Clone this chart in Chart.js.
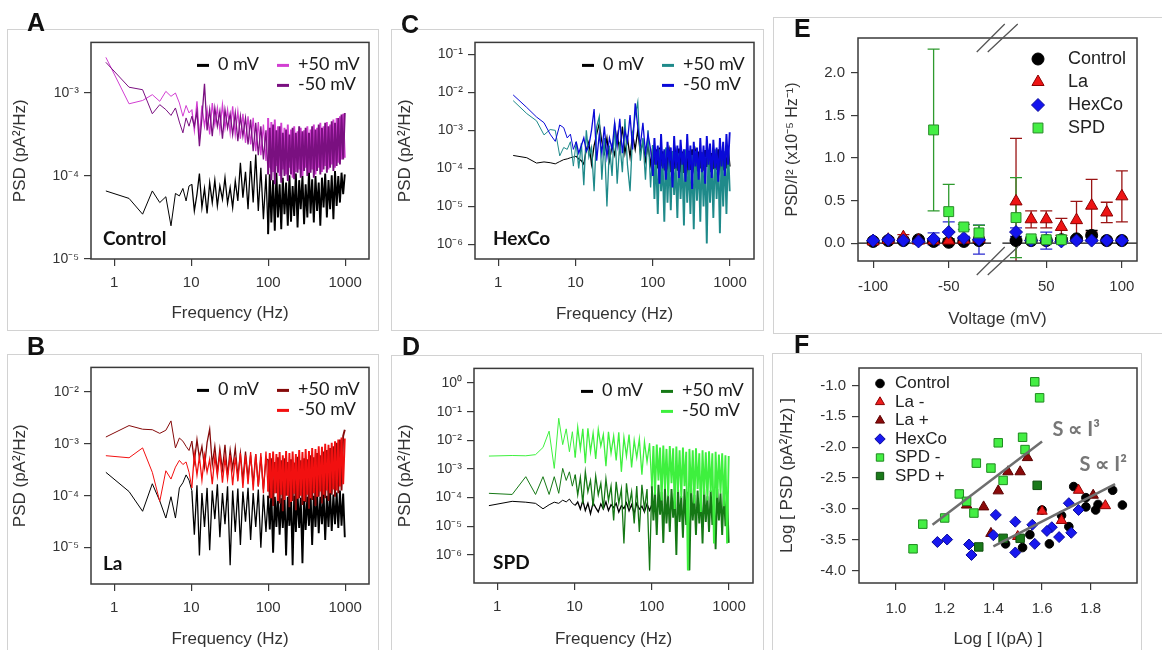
<!DOCTYPE html>
<html>
<head>
<meta charset="utf-8">
<script src="https://cdn.jsdelivr.net/npm/chart.js@4.4.1/dist/chart.umd.min.js"></script>
<style>
  html, body { margin: 0; padding: 0; background: #fff; }
  body { width: 1162px; height: 650px; position: relative; overflow: hidden; font-family: "Liberation Sans", Arial, sans-serif; }
  .box { position: absolute; box-sizing: border-box; border: 1px solid #d2d2d2; }
  .cv { position: absolute; }
  .lett { position: absolute; font: bold 25px/24px "Liberation Sans", Arial, sans-serif; color: #111; }
</style>
</head>
<body>
<div class="box" style="left:7px;top:29px;width:372px;height:302px"></div>
<div class="box" style="left:7px;top:354px;width:372px;height:310px"></div>
<div class="box" style="left:391px;top:29px;width:373px;height:302px"></div>
<div class="box" style="left:391px;top:355px;width:373px;height:310px"></div>
<div class="box" style="left:773px;top:17px;width:400px;height:317px"></div>
<div class="box" style="left:772px;top:353px;width:370px;height:310px"></div>

<canvas id="pA" class="cv" style="left:7px;top:29px" width="371" height="301"></canvas>
<canvas id="pB" class="cv" style="left:7px;top:354px" width="371" height="296"></canvas>
<canvas id="pC" class="cv" style="left:391px;top:29px" width="372" height="301"></canvas>
<canvas id="pD" class="cv" style="left:391px;top:355px" width="372" height="295"></canvas>
<canvas id="pE" class="cv" style="left:773px;top:17px" width="389" height="316"></canvas>
<canvas id="pF" class="cv" style="left:772px;top:353px" width="369" height="297"></canvas>

<div class="lett" style="left:27px;top:10px">A</div>
<div class="lett" style="left:27px;top:334px">B</div>
<div class="lett" style="left:401px;top:12px">C</div>
<div class="lett" style="left:402px;top:334px">D</div>
<div class="lett" style="left:794px;top:16px">E</div>
<div class="lett" style="left:794px;top:332px">F</div>

<script>
// ---- spectra: frequency bins (Hz) shared by panels A-D ----
const FREQ = [
  0.78, 1.56, 2.34, 3.13, 3.91, 4.69, 5.47, 6.25, 7.03, 7.81, 8.59, 9.38,
  10.2, 11.0, 11.9, 12.8, 13.8, 14.9, 16.1, 17.4, 18.8, 20.3,
  21.9, 23.6, 25.5, 27.5, 29.7, 32.1, 34.6, 37.4, 40.4, 43.6,
  47.0, 50.8, 54.8, 59.2, 63.9, 69.0, 74.5, 80.4, 86.8, 93.7,
  100, 105, 110, 116, 122, 128, 134, 141,
  148, 155, 163, 171, 180, 189, 198, 208,
  218, 229, 241, 253, 265, 279, 293, 307,
  323, 339, 356, 373, 392, 412, 432, 454,
  476, 500, 525, 551, 579, 608, 638, 670,
  704, 739, 776, 815, 856, 898, 943, 990
];
const FREQ_TICKS = [1, 10, 100, 1000];
const LEGEND_LABELS = ['0 mV', '+50 mV', '-50 mV'];

// values are log10(PSD in pA^2/Hz)
// A - Control
const A_0MV = [
  -4.18,-4.27,-4.46,-4.18,-4.32,-4.25,-4.60,-4.21,-4.24,-4.15,-4.30,-4.12,
  -4.10,-4.42,-4.22,-3.97,-4.38,-4.15,-4.45,-4.08,-4.32,-4.05,
  -4.36,-4.12,-4.28,-4.02,-4.33,-4.14,-4.38,-4.06,-4.30,-3.84,
  -4.26,-3.95,-4.40,-3.82,-4.32,-3.74,-4.42,-3.90,-4.52,-3.98,
  -4.70,-3.98,-4.56,-4.05,-4.66,-3.96,-4.50,-4.10,
  -4.64,-4.02,-4.46,-4.08,-4.60,-3.99,-4.55,-4.12,
  -4.48,-3.97,-4.62,-4.05,-4.40,-4.00,-4.58,-4.10,
  -4.50,-3.95,-4.45,-4.04,-4.56,-4.00,-4.42,-4.08,
  -4.60,-4.02,-4.38,-3.97,-4.50,-4.05,-4.40,-3.99,
  -4.52,-3.94,-4.36,-4.00,-4.32,-3.96,-4.22,-3.98
];
const A_P50 = [
  -2.57,-3.13,-3.09,-3.02,-3.10,-2.98,-3.04,-3.00,-3.12,-3.28,-3.15,-3.24,
  -3.20,-3.45,-3.10,-3.55,-3.15,-3.40,-3.20,-3.50,-3.12,-3.38,
  -3.18,-3.45,-3.14,-3.42,-3.20,-3.48,-3.16,-3.50,-3.22,-3.55,
  -3.25,-3.60,-3.28,-3.62,-3.30,-3.70,-3.35,-3.75,-3.38,-3.82,
  -3.30,-3.90,-3.35,-3.95,-3.32,-3.88,-3.40,-4.00,
  -3.36,-3.92,-3.42,-3.98,-3.38,-3.90,-3.44,-4.02,
  -3.40,-3.95,-3.46,-3.92,-3.42,-4.00,-3.45,-3.90,
  -3.40,-3.96,-3.44,-3.92,-3.38,-3.98,-3.42,-3.90,
  -3.36,-3.95,-3.40,-3.88,-3.35,-3.92,-3.38,-3.86,
  -3.32,-3.90,-3.30,-3.84,-3.28,-3.80,-3.25,-3.78
];
const A_M50 = [
  -2.63,-2.93,-2.96,-3.25,-3.14,-3.20,-3.27,-3.18,-3.35,-3.48,-3.30,-3.40,
  -3.28,-3.40,-3.22,-3.64,-3.30,-2.89,-3.45,-3.20,-3.52,-3.18,
  -3.40,-3.22,-3.55,-3.20,-3.42,-3.25,-3.50,-3.24,-3.58,-3.28,
  -3.52,-3.30,-3.62,-3.32,-3.70,-3.36,-3.75,-3.40,-3.80,-3.45,
  -3.98,-3.42,-4.05,-3.38,-4.10,-3.45,-3.96,-3.40,
  -4.08,-3.48,-4.00,-3.44,-4.06,-3.50,-3.98,-3.42,
  -4.04,-3.48,-3.96,-3.40,-4.02,-3.46,-3.94,-3.42,
  -4.00,-3.48,-3.96,-3.40,-4.02,-3.44,-3.94,-3.38,
  -3.98,-3.42,-3.92,-3.36,-3.96,-3.40,-3.90,-3.34,
  -3.94,-3.36,-3.88,-3.30,-3.86,-3.26,-3.80,-3.24
];

// B - La
const B_0MV = [
  -3.55,-3.92,-4.30,-3.77,-4.10,-4.43,-4.02,-4.43,-3.85,-3.75,-3.60,-3.70,
  -3.90,-4.75,-3.80,-5.15,-3.95,-4.60,-3.85,-5.05,-3.90,-4.45,
  -3.78,-4.80,-3.95,-4.55,-3.82,-5.34,-3.90,-4.70,-3.86,-4.95,
  -3.92,-4.50,-3.85,-4.85,-3.95,-4.60,-3.88,-5.00,-3.98,-4.70,
  -4.00,-4.65,-3.95,-5.10,-4.02,-4.60,-3.98,-4.75,
  -4.05,-4.62,-3.96,-5.15,-4.02,-4.58,-3.95,-5.34,
  -4.00,-4.70,-3.97,-4.62,-4.04,-5.30,-3.98,-4.66,
  -4.02,-4.58,-3.96,-4.95,-4.00,-4.60,-3.94,-4.72,
  -4.02,-4.55,-3.96,-4.85,-4.00,-4.60,-3.92,-4.68,
  -3.98,-4.55,-3.94,-4.62,-3.90,-4.58,-3.96,-4.80
];
const B_P50 = [
  -2.87,-2.65,-2.72,-2.73,-2.80,-2.74,-2.56,-3.08,-2.89,-2.95,-3.05,-3.13,
  -2.95,-3.35,-2.92,-3.28,-3.05,-3.45,-2.98,-2.72,-3.40,-3.05,
  -3.55,-3.10,-3.50,-3.02,-3.60,-3.12,-3.48,-3.08,-3.62,-3.18,
  -3.70,-3.15,-3.66,-3.22,-3.78,-3.20,-3.82,-3.25,-3.88,-3.30,
  -3.30,-4.05,-3.28,-4.20,-3.35,-3.95,-3.26,-4.15,
  -3.32,-4.30,-3.28,-4.00,-3.35,-4.22,-3.30,-4.10,
  -3.36,-4.28,-3.25,-4.05,-3.32,-4.18,-3.28,-4.12,
  -3.30,-4.25,-3.22,-4.08,-3.26,-4.20,-3.18,-4.02,
  -3.22,-4.15,-3.15,-4.05,-3.12,-4.10,-3.08,-3.98,
  -3.05,-4.02,-2.98,-3.95,-2.92,-3.90,-2.85,-2.73
];
const B_M50 = [
  -3.23,-3.27,-3.08,-3.55,-4.11,-3.52,-3.68,-3.45,-3.32,-3.40,-3.35,-3.55,
  -3.85,-3.20,-3.60,-3.25,-3.70,-3.22,-3.55,-3.30,-3.78,-3.25,
  -3.62,-3.20,-3.75,-3.28,-3.68,-3.22,-3.80,-3.26,-3.72,-3.18,
  -3.85,-3.22,-3.78,-3.16,-3.90,-3.20,-3.82,-3.18,-3.95,-3.15,
  -3.92,-3.18,-4.05,-3.15,-3.95,-3.20,-4.10,-3.16,
  -3.98,-3.22,-4.08,-3.14,-4.00,-3.18,-4.12,-3.15,
  -3.96,-3.20,-4.06,-3.12,-4.00,-3.16,-4.10,-3.10,
  -3.98,-3.14,-4.05,-3.08,-3.95,-3.10,-4.02,-3.05,
  -3.92,-3.06,-3.98,-3.00,-3.90,-3.02,-3.95,-2.98,
  -3.88,-2.95,-3.90,-2.92,-3.82,-2.88,-3.78,-2.90
];

// C - HexCo
const C_0MV = [
  null,-3.66,-3.72,-3.86,-3.83,-3.85,-3.88,-3.82,-3.77,-3.75,-3.72,-3.70,
  -3.68,-3.75,-3.80,-3.89,-3.50,-3.30,-3.89,-3.40,-3.10,-2.82,
  -3.30,-3.60,-3.20,-3.80,-3.40,-3.65,-3.10,-3.55,-2.90,-3.60,
  -3.20,-3.70,-3.10,-3.50,-3.00,-3.60,-3.30,-3.80,-3.40,-3.90,
  -3.40,-3.90,-3.50,-4.00,-3.45,-3.95,-3.55,-4.05,
  -3.52,-3.92,-3.60,-4.10,-3.55,-4.02,-3.62,-4.06,
  -3.48,-3.96,-3.56,-4.12,-3.60,-3.98,-3.54,-4.04,
  -3.50,-3.94,-3.62,-4.08,-3.56,-4.00,-3.58,-4.06,
  -3.52,-3.96,-3.54,-4.10,-3.60,-4.02,-3.56,-4.04,
  -3.50,-3.95,-3.55,-4.05,-3.58,-4.00,-3.52,-3.95
];
const C_P50 = [
  null,-2.22,-2.56,-2.75,-3.12,-2.98,-3.00,-3.67,-3.45,-3.50,-3.30,-3.94,
  -3.30,-4.00,-3.34,-4.44,-3.00,-3.70,-3.45,-4.60,-2.90,-2.64,
  -4.30,-3.20,-5.00,-3.40,-4.20,-2.80,-4.40,-3.30,-4.10,-2.70,
  -3.90,-4.60,-3.10,-2.60,-2.26,-3.80,-3.20,-4.30,-3.00,-4.50,
  -3.40,-4.80,-3.60,-5.20,-3.50,-4.60,-3.80,-5.40,
  -3.45,-4.90,-3.70,-5.10,-3.55,-4.70,-3.90,-5.30,
  -3.60,-4.80,-3.75,-5.50,-3.50,-4.90,-3.85,-5.20,
  -3.65,-5.60,-3.55,-4.85,-3.80,-5.40,-3.60,-5.00,
  -3.70,-5.97,-3.55,-4.90,-3.80,-5.30,-3.50,-4.80,
  -3.75,-5.70,-3.60,-5.00,-3.55,-5.20,-3.45,-4.60
];
const C_M50 = [
  null,-2.07,-2.40,-2.65,-2.80,-3.10,-3.29,-2.86,-2.93,-3.20,-3.10,-3.50,
  -3.30,-3.60,-3.40,-3.20,-3.55,-3.41,-3.00,-2.44,-3.80,-3.10,
  -3.60,-2.90,-3.70,-3.20,-3.50,-2.80,-3.40,-2.70,-3.60,-3.00,
  -3.30,-2.60,-3.50,-2.29,-2.90,-3.40,-2.80,-3.60,-3.10,-3.50,
  -4.20,-3.20,-3.90,-3.40,-4.40,-3.10,-4.00,-3.50,
  -4.30,-3.30,-3.80,-3.45,-4.50,-3.15,-4.00,-3.40,
  -4.25,-3.25,-3.90,-3.50,-4.35,-3.10,-4.05,-3.40,
  -4.54,-3.30,-3.95,-3.45,-4.30,-3.20,-4.10,-3.40,
  -4.40,-3.15,-3.90,-3.35,-4.25,-3.25,-4.00,-3.45,
  -4.35,-3.20,-3.95,-3.30,-4.20,-3.10,-3.90,-3.05
];

// D - SPD (0 mV trace stops near 110 Hz)
const D_0MV = [
  -4.28,-4.13,-4.16,-4.20,-4.39,-4.25,-4.16,-4.20,-4.09,-4.15,-4.05,-4.20,
  -4.27,-4.15,-4.40,-4.10,-4.45,-4.20,-4.56,-4.18,-4.35,-4.50,
  -4.22,-4.40,-4.15,-4.45,-4.25,-4.35,-4.20,-4.50,-4.28,-4.38,
  -4.18,-4.46,-4.25,-4.55,-4.20,-4.40,-4.30,-4.50,-4.22,-4.45,
  -4.25,-4.40,-4.20,null,null,null,null,null,
  null,null,null,null,null,null,null,null,
  null,null,null,null,null,null,null,null,
  null,null,null,null,null,null,null,null,
  null,null,null,null,null,null,null,null,
  null,null,null,null,null,null,null,null
];
const D_P50 = [
  -3.85,-3.89,-3.27,-3.89,-3.27,-3.89,-3.27,-3.85,-2.98,-3.40,-3.10,-3.60,
  -3.20,-3.90,-3.30,-4.20,-3.10,-3.80,-3.40,-4.30,-3.25,-3.90,
  -3.50,-4.40,-3.35,-4.10,-3.60,-4.80,-3.45,-4.20,-3.70,-5.60,
  -3.50,-4.30,-3.80,-4.90,-3.60,-5.20,-3.55,-4.40,-3.70,-6.54,
  -3.60,-4.80,-3.75,-5.30,-3.55,-4.60,-3.80,-5.58,
  -3.65,-4.90,-3.90,-5.20,-3.70,-4.70,-3.85,-6.00,
  -3.60,-4.85,-3.95,-5.40,-3.70,-4.95,-3.80,-6.54,
  -3.65,-4.80,-3.90,-5.30,-3.75,-4.90,-3.85,-5.60,
  -3.70,-4.85,-3.95,-5.20,-3.75,-4.95,-3.90,-5.80,
  -3.70,-4.80,-3.85,-5.30,-3.75,-5.00,-3.90,-5.58
];
const D_M50 = [
  -2.55,-2.53,-2.54,-2.50,-2.25,-1.68,-2.98,-1.23,-2.15,-1.60,-2.40,-1.70,
  -2.60,-1.55,-2.30,-1.60,-2.80,-1.58,-2.40,-1.75,-2.65,-1.62,
  -2.20,-1.80,-2.90,-1.70,-2.45,-1.85,-2.70,-1.72,-3.10,-1.90,
  -2.55,-1.80,-2.95,-2.00,-2.60,-1.95,-3.20,-2.05,-2.75,-2.10,
  -3.60,-2.20,-3.90,-2.15,-3.40,-2.25,-4.10,-2.18,
  -3.70,-2.30,-3.95,-2.20,-3.50,-2.28,-4.40,-2.22,
  -3.80,-2.35,-4.00,-2.25,-3.60,-2.40,-6.54,-2.30,
  -3.85,-2.35,-4.20,-2.28,-3.70,-2.45,-4.50,-2.35,
  -3.90,-2.42,-4.10,-2.38,-3.80,-2.45,-5.60,-2.40,
  -4.00,-2.50,-3.85,-2.45,-4.30,-2.52,-5.60,-2.55
];

// ---- E: PSD/I^2 vs voltage ----
const E_VOLT = [-100, -90, -80, -70, -60, -50, -40, -30, 30, 40, 50, 60, 70, 80, 90, 100];
const E_XTICKS = [-100, -50, 50, 100];
const E_YTICKS = [0, 0.5, 1.0, 1.5, 2.0];
const E_LABELS = ['Control', 'La', 'HexCo', 'SPD'];
const E_CONTROL     = [0.02, 0.03, 0.03, 0.04, 0.02, 0.01, 0.02, 0.03, 0.03, 0.03, 0.03, 0.04, 0.05, 0.09, 0.03, 0.03];
const E_CONTROL_ERR = [0.01, 0.01, 0.01, 0.01, 0.01, 0.01, 0.01, 0.01, 0.01, 0.01, 0.01, 0.02, 0.02, 0.06, 0.01, 0.01];
const E_LA          = [0.02, 0.04, 0.07, 0.03, 0.03, 0.03, 0.04, 0.05, 0.49, 0.28, 0.28, 0.19, 0.27, 0.44, 0.36, 0.55];
const E_LA_ERR      = [0.01, 0.02, 0.03, 0.01, 0.01, 0.02, 0.02, 0.02, 0.74, 0.10, 0.10, 0.10, 0.22, 0.31, 0.12, 0.30];
const E_HEXCO       = [0.03, 0.04, 0.03, 0.02, 0.05, 0.13, 0.06, 0.04, 0.13, 0.03, 0.03, 0.02, 0.03, 0.03, 0.03, 0.03];
const E_HEXCO_ERR   = [0.01, 0.01, 0.01, 0.01, 0.07, 0.12, 0.02, 0.17, 0.05, 0.01, 0.10, 0.02, 0.01, 0.01, 0.01, 0.01];
const E_SPD         = [null, null, null, null, 1.33, 0.37, 0.19, 0.12, 0.30, 0.05, 0.04, 0.04, null, null, null, null];
const E_SPD_ERR     = [null, null, null, null, 0.95, 0.32, 0.03, 0.09, 0.47, 0.02, 0.02, 0.02, null, null, null, null];

// ---- F: log PSD vs log I ----
const F_LABELS = ['Control', 'La -', 'La +', 'HexCo', 'SPD -', 'SPD +'];
const F_CONTROL_X = [1.73, 1.89, 1.78, 1.93, 1.83, 1.82, 1.78, 1.60, 1.68, 1.71, 1.55, 1.45, 1.52, 1.63];
const F_CONTROL_Y = [-2.64, -2.70, -2.82, -2.94, -2.93, -3.02, -2.97, -3.02, -3.11, -3.29, -3.42, -3.57, -3.63, -3.57];
const F_LAM_X = [1.75, 1.86, 1.60, 1.68, 1.50];
const F_LAM_Y = [-2.70, -2.95, -3.04, -3.19, -3.45];
const F_LAP_X = [1.54, 1.46, 1.51, 1.42, 1.36, 1.29, 1.81, 1.39];
const F_LAP_Y = [-2.17, -2.40, -2.40, -2.71, -2.97, -2.94, -2.78, -3.40];
const F_HEX_X = [1.71, 1.75, 1.41, 1.49, 1.56, 1.64, 1.62, 1.72, 1.67, 1.40, 1.17, 1.21, 1.30, 1.31, 1.57, 1.49];
const F_HEX_Y = [-2.91, -3.02, -3.10, -3.21, -3.26, -3.30, -3.36, -3.39, -3.46, -3.43, -3.54, -3.50, -3.58, -3.75, -3.57, -3.71];
const F_SPDM_X = [1.57, 1.59, 1.52, 1.42, 1.53, 1.33, 1.39, 1.44, 1.26, 1.29, 1.32, 1.20, 1.11, 1.07];
const F_SPDM_Y = [-0.94, -1.20, -1.84, -1.93, -2.04, -2.26, -2.34, -2.54, -2.76, -2.88, -3.07, -3.15, -3.25, -3.65];
const F_SPDP_X = [1.58, 1.44, 1.51, 1.34];
const F_SPDP_Y = [-2.62, -3.48, -3.48, -3.62];
const F_FIT3_X = [1.15, 1.60];
const F_FIT3_Y = [-3.26, -1.91];
const F_FIT2_X = [1.40, 1.90];
const F_FIT2_Y = [-3.61, -2.60];
const F_XTICKS = [1.0, 1.2, 1.4, 1.6, 1.8];
const F_YTICKS = [-1.0, -1.5, -2.0, -2.5, -3.0, -3.5, -4.0];

// ---------------------------------------------------------------
const FONT = '"Liberation Sans", Arial, sans-serif';
const LFONT = 'Lato, "Open Sans", sans-serif';
const GRID = { display: true, drawOnChartArea: false, drawTicks: true, tickLength: 7, color: '#3a3a3a', lineWidth: 1.2 };
const SUP = { '-': '\u207B', '0': '\u2070', '1': '\u00B9', '2': '\u00B2', '3': '\u00B3', '4': '\u2074',
              '5': '\u2075', '6': '\u2076', '7': '\u2077', '8': '\u2078', '9': '\u2079' };
const powLabel = v => '10' + String(Math.round(Math.log10(v))).split('').map(c => SUP[c]).join('');

const framePlugin = {
  id: 'frame',
  afterDatasetsDraw(chart) {
    const { ctx, chartArea: a } = chart;
    ctx.save();
    ctx.strokeStyle = '#3a3a3a';
    ctx.lineWidth = 1.5;
    ctx.strokeRect(a.left, a.top, a.right - a.left, a.bottom - a.top);
    ctx.restore();
  }
};

// legend "— 0 mV  — +50 mV / — -50 mV" plus the condition tag
const psdLegend = {
  id: 'psdLegend',
  afterDraw(chart, args, opts) {
    const { ctx, chartArea: a } = chart;
    const slots = [[a.right - 172, a.top + 23], [a.right - 92, a.top + 23], [a.right - 92, a.top + 43]];
    ctx.save();
    ctx.font = '18px ' + LFONT;
    ctx.textBaseline = 'middle';
    opts.legendIdx.forEach((di, k) => {
      const d = chart.data.datasets[di];
      const [x, y] = slots[k];
      ctx.strokeStyle = d.borderColor;
      ctx.lineWidth = 3;
      ctx.beginPath(); ctx.moveTo(x, y); ctx.lineTo(x + 12, y); ctx.stroke();
      ctx.fillStyle = '#1a1a1a';
      ctx.fillText(d.label, x + 21, y - 1);
    });
    ctx.font = 'bold 19px ' + LFONT;
    ctx.textBaseline = 'alphabetic';
    ctx.fillStyle = '#111';
    ctx.fillText(opts.tag, a.left + opts.tagX, a.bottom - 14);
    ctx.restore();
  }
};

function psdChart(id, g, series, yRange, yTicks, tag) {
  // series given in legend order; drawing order: -50 on top, then +50, then 0 mV
  const datasets = series.map(s => ({
    label: s.label,
    data: FREQ.map((f, i) => ({ x: f, y: s.values[i] === null ? null : Math.pow(10, s.values[i]) })),
    borderColor: s.color,
    borderWidth: 1,
    // the dense high-frequency part reads as a filled band
    segment: { borderWidth: c => (c.p0.parsed.x >= 95 ? 1.9 : (c.p0.parsed.x >= 10 ? 1.3 : 1)) },
    pointRadius: 0,
    tension: 0,
    order: s.order
  }));
  return new Chart(document.getElementById(id), {
    type: 'line',
    data: { datasets },
    options: {
      responsive: false, animation: false, events: [], devicePixelRatio: 1,
      layout: { autoPadding: false, padding: { left: 0, top: g.top, right: g.right, bottom: 0 } },
      plugins: {
        legend: { display: false }, tooltip: { enabled: false },
        psdLegend: { tag, tagX: g.tagX, legendIdx: [0, 1, 2] }
      },
      scales: {
        x: {
          type: 'logarithmic', min: 0.5, max: 2042,
          afterBuildTicks: s => { s.ticks = FREQ_TICKS.map(v => ({ value: v })); },
          afterFit: s => { s.height = g.xH; },
          ticks: { autoSkip: false, maxRotation: 0, minRotation: 0, padding: 8, color: '#333',
                   font: { family: FONT, size: 15 }, callback: v => String(v) },
          grid: GRID, border: { display: false },
          title: { display: true, text: 'Frequency (Hz)', color: '#333',
                   font: { family: FONT, size: 17 }, padding: { top: 0, bottom: g.xtPad } }
        },
        y: {
          type: 'logarithmic', min: Math.pow(10, yRange[0]), max: Math.pow(10, yRange[1]),
          afterBuildTicks: s => { s.ticks = yTicks.map(e => ({ value: Math.pow(10, e) })); },
          afterFit: s => { s.width = g.yW; },
          ticks: { autoSkip: false, padding: 5, color: '#333', font: { family: FONT, size: 14 },
                   callback: v => powLabel(v) },
          grid: GRID, border: { display: false },
          title: { display: true, text: 'PSD (pA\u00B2/Hz)', color: '#333',
                   font: { family: FONT, size: 17 }, padding: { top: g.ytPad, bottom: 0 } }
        }
      }
    },
    plugins: [framePlugin, psdLegend]
  });
}

psdChart('pA', { top: 8, right: 9, xH: 71, yW: 84, xtPad: 6, ytPad: 3, tagX: 12 }, [
  { label: LEGEND_LABELS[0], values: A_0MV, color: '#000000', order: 2 },
  { label: LEGEND_LABELS[1], values: A_P50, color: '#d23fd2', order: 1 },
  { label: LEGEND_LABELS[2], values: A_M50, color: '#7a1080', order: 0 }
], [-5, -2.39], [-3, -4, -5], 'Control');

psdChart('pB', { top: 9, right: 9, xH: 66, yW: 84, xtPad: 0, ytPad: 3, tagX: 12 }, [
  { label: LEGEND_LABELS[0], values: B_0MV, color: '#000000', order: 2 },
  { label: LEGEND_LABELS[1], values: B_P50, color: '#850a0a', order: 1 },
  { label: LEGEND_LABELS[2], values: B_M50, color: '#f21010', order: 0 }
], [-5.70, -1.53], [-2, -3, -4, -5], 'La');

psdChart('pC', { top: 8, right: 9, xH: 71, yW: 84, xtPad: 5, ytPad: 4, tagX: 18 }, [
  { label: LEGEND_LABELS[0], values: C_0MV, color: '#000000', order: 2 },
  { label: LEGEND_LABELS[1], values: C_P50, color: '#1f8a8a', order: 1 },
  { label: LEGEND_LABELS[2], values: C_M50, color: '#0a0ad8', order: 0 }
], [-6.38, -0.69], [-1, -2, -3, -4, -5, -6], 'HexCo');

psdChart('pD', { top: 7, right: 10, xH: 67, yW: 83, xtPad: 0, ytPad: 4, tagX: 19 }, [
  { label: LEGEND_LABELS[0], values: D_0MV, color: '#000000', order: 2 },
  { label: LEGEND_LABELS[1], values: D_P50, color: '#157815', order: 1 },
  { label: LEGEND_LABELS[2], values: D_M50, color: '#3ef03e', order: 0 }
], [-6.98, 0.51], [0, -1, -2, -3, -4, -5, -6], 'SPD');

// ---- marker legend (E, F) ----
const markerLegend = {
  id: 'markerLegend',
  afterDraw(chart, args, opts) {
    const { ctx, chartArea: a } = chart;
    ctx.save();
    ctx.font = opts.font;
    ctx.textBaseline = 'middle';
    opts.items.forEach((di, r) => {
      const d = chart.data.datasets[di];
      const mx = opts.fromRight ? a.right - opts.mx : a.left + opts.mx;
      const y = a.top + opts.y0 + r * opts.dy;
      ctx.fillStyle = d.backgroundColor;
      ctx.strokeStyle = d.borderColor;
      ctx.lineWidth = 1;
      Chart.helpers.drawPoint(ctx, { pointStyle: d.pointStyle, radius: opts.radius(d), rotation: 0, borderWidth: 1 }, mx, y);
      ctx.fillStyle = '#222';
      ctx.fillText(d.label, mx + opts.tx, y);
    });
    ctx.restore();
  }
};

// ---- E ----
const E_GAP = 35.5;                       // axis break between -30 and +30 mV
const ePos = v => (v < 0 ? v : v - E_GAP);

const errorBars = {
  id: 'errorBars',
  beforeDatasetsDraw(chart) {
    const { ctx, chartArea: a, scales: { x, y } } = chart;
    ctx.save();
    ctx.beginPath(); ctx.rect(a.left, a.top, a.right - a.left, a.bottom - a.top); ctx.clip();
    // zero line, broken at the axis break
    ctx.strokeStyle = '#111'; ctx.lineWidth = 1.3;
    const y0 = y.getPixelForValue(0);
    ctx.beginPath();
    ctx.moveTo(a.left, y0); ctx.lineTo(x.getPixelForValue(ePos(-22)), y0);
    ctx.moveTo(x.getPixelForValue(ePos(21)), y0); ctx.lineTo(a.right, y0);
    ctx.stroke();
    chart.data.datasets.forEach(d => {
      if (!d.errors) return;
      ctx.strokeStyle = d.barColor;
      ctx.lineWidth = 1.3;
      d.data.forEach((p, i) => {
        const e = d.errors[i];
        if (p.y === null || !e) return;
        const px = x.getPixelForValue(p.x);
        const top = y.getPixelForValue(p.y + e), bot = y.getPixelForValue(p.y - e);
        ctx.beginPath();
        ctx.moveTo(px, bot); ctx.lineTo(px, top);
        ctx.moveTo(px - 6, top); ctx.lineTo(px + 6, top);
        ctx.moveTo(px - 6, bot); ctx.lineTo(px + 6, bot);
        ctx.stroke();
      });
    });
    ctx.restore();
  },
  afterDraw(chart) {
    const { ctx, chartArea: a, scales: { x } } = chart;
    const cx = (x.getPixelForValue(ePos(-22)) + x.getPixelForValue(ePos(21))) / 2;
    ctx.save();
    ctx.strokeStyle = '#555'; ctx.lineWidth = 1.3;
    [a.top, a.bottom].forEach(cy => {
      ctx.beginPath();
      ctx.moveTo(cx - 20, cy + 14); ctx.lineTo(cx + 8, cy - 14);
      ctx.moveTo(cx - 9, cy + 14); ctx.lineTo(cx + 21, cy - 14);
      ctx.stroke();
    });
    ctx.restore();
  }
};

const eSeries = [
  { y: E_CONTROL, err: E_CONTROL_ERR, style: 'circle',   r: 6,   fill: '#000000', line: '#000000', bar: '#000000', order: 3 },
  { y: E_LA,      err: E_LA_ERR,      style: 'triangle', r: 7,   fill: '#ee1414', line: '#8b0000', bar: '#9a1414', order: 2 },
  { y: E_HEXCO,   err: E_HEXCO_ERR,   style: 'rectRot',  r: 6.5, fill: '#1414ee', line: '#0a0a9a', bar: '#2a2ad0', order: 1 },
  { y: E_SPD,     err: E_SPD_ERR,     style: 'rect',     r: 7,   fill: '#44ee44', line: '#2a8a2a', bar: '#2e9a2e', order: 0 }
];

new Chart(document.getElementById('pE'), {
  type: 'scatter',
  data: {
    datasets: eSeries.map((s, k) => ({
      label: E_LABELS[k],
      data: E_VOLT.map((v, i) => ({ x: ePos(v), y: s.y[i] })),
      pointStyle: s.style, pointRadius: s.r, backgroundColor: s.fill, borderColor: s.line, borderWidth: 1,
      errors: s.err, barColor: s.bar, order: s.order
    }))
  },
  options: {
    responsive: false, animation: false, events: [], devicePixelRatio: 1,
    layout: { autoPadding: false, padding: { left: 0, top: 21, right: 25, bottom: 0 } },
    plugins: {
      legend: { display: false }, tooltip: { enabled: false },
      markerLegend: { items: [0, 1, 2, 3], fromRight: true, mx: 99, tx: 30, y0: 21, dy: 23,
                      font: '18px ' + FONT, radius: d => d.pointRadius }
    },
    scales: {
      x: {
        type: 'linear', min: -110, max: 74.5,
        afterBuildTicks: s => { s.ticks = E_XTICKS.map(v => ({ value: ePos(v) })); },
        afterFit: s => { s.height = 72; },
        ticks: { autoSkip: false, maxRotation: 0, padding: 10, color: '#333', font: { family: FONT, size: 15 },
                 callback: (v, i) => String(E_XTICKS[i]) },
        grid: GRID, border: { display: false },
        title: { display: true, text: 'Voltage (mV)', color: '#333', font: { family: FONT, size: 17 },
                 padding: { top: 0, bottom: 3 } }
      },
      y: {
        type: 'linear', min: -0.21, max: 2.41,
        afterBuildTicks: s => { s.ticks = E_YTICKS.map(v => ({ value: v })); },
        afterFit: s => { s.width = 85; },
        ticks: { autoSkip: false, padding: 6, color: '#333', font: { family: FONT, size: 15 },
                 callback: v => v.toFixed(1) },
        grid: GRID, border: { display: false },
        title: { display: true, text: 'PSD/I\u00B2 (x10\u207B\u2075 Hz\u207B\u00B9)', color: '#333',
                 font: { family: FONT, size: 16 }, padding: { top: 10, bottom: 0 } }
      }
    }
  },
  plugins: [errorBars, framePlugin, markerLegend]
});

// ---- F ----
const fNotes = {
  id: 'fNotes',
  afterDatasetsDraw(chart) {
    const { ctx, scales: { x, y } } = chart;
    ctx.save();
    ctx.font = 'bold 20px ' + LFONT;
    ctx.fillStyle = '#777';
    ctx.textBaseline = 'middle';
    ctx.fillText('S \u221D I\u00B3', x.getPixelForValue(1.643), y.getPixelForValue(-1.71));
    ctx.fillText('S \u221D I\u00B2', x.getPixelForValue(1.754), y.getPixelForValue(-2.29));
    ctx.restore();
  }
};

const zip = (xs, ys) => xs.map((v, i) => ({ x: v, y: ys[i] }));
const fSeries = [
  { x: F_CONTROL_X, y: F_CONTROL_Y, style: 'circle',   r: 4.3, fill: '#000000', line: '#000000', order: 6 },
  { x: F_LAM_X,     y: F_LAM_Y,     style: 'triangle', r: 6,   fill: '#ee1c1c', line: '#8b0000', order: 5 },
  { x: F_LAP_X,     y: F_LAP_Y,     style: 'triangle', r: 6,   fill: '#8b0a0a', line: '#5a0000', order: 4 },
  { x: F_HEX_X,     y: F_HEX_Y,     style: 'rectRot',  r: 5.5, fill: '#1818ee', line: '#0a0a9a', order: 3 },
  { x: F_SPDM_X,    y: F_SPDM_Y,    style: 'rect',     r: 6,   fill: '#44ee44', line: '#1f8a1f', order: 2 },
  { x: F_SPDP_X,    y: F_SPDP_Y,    style: 'rect',     r: 6,   fill: '#1a7a1a', line: '#0f4f0f', order: 1 }
];
const fDatasets = fSeries.map((s, k) => ({
  label: F_LABELS[k], data: zip(s.x, s.y), pointStyle: s.style, pointRadius: s.r,
  backgroundColor: s.fill, borderColor: s.line, borderWidth: 1, order: s.order
}));
[[F_FIT3_X, F_FIT3_Y], [F_FIT2_X, F_FIT2_Y]].forEach(([xs, ys]) => {
  fDatasets.push({ type: 'line', data: zip(xs, ys), showLine: true, borderColor: '#6e6e6e', borderWidth: 2.5,
                   pointRadius: 0, order: -1 });
});

new Chart(document.getElementById('pF'), {
  type: 'scatter',
  data: { datasets: fDatasets },
  options: {
    responsive: false, animation: false, events: [], devicePixelRatio: 1,
    layout: { autoPadding: false, padding: { left: 0, top: 9, right: 4, bottom: 0 } },
    plugins: {
      legend: { display: false }, tooltip: { enabled: false },
      markerLegend: { items: [0, 1, 2, 3, 4, 5], fromRight: false, mx: 21, tx: 15, y0: 15.5, dy: 18.5,
                      font: '17px ' + FONT, radius: d => Math.min(d.pointRadius, 5.2) }
    },
    scales: {
      x: {
        type: 'linear', min: 0.848, max: 1.99,
        afterBuildTicks: s => { s.ticks = F_XTICKS.map(v => ({ value: v })); },
        afterFit: s => { s.height = 67; },
        ticks: { autoSkip: false, maxRotation: 0, padding: 10, color: '#333', font: { family: FONT, size: 15 },
                 callback: v => v.toFixed(1) },
        grid: GRID, border: { display: false },
        title: { display: true, text: 'Log [ I(pA) ]', color: '#333', font: { family: FONT, size: 17 },
                 padding: { top: 0, bottom: 0 } }
      },
      y: {
        type: 'linear', min: -4.205, max: -0.716,
        afterBuildTicks: s => { s.ticks = F_YTICKS.map(v => ({ value: v })); },
        afterFit: s => { s.width = 87; },
        ticks: { autoSkip: false, padding: 6, color: '#333', font: { family: FONT, size: 15 },
                 callback: v => v.toFixed(1) },
        grid: GRID, border: { display: false },
        title: { display: true, text: 'Log [ PSD (pA\u00B2/Hz) ]', color: '#333', font: { family: FONT, size: 17 },
                 padding: { top: 5, bottom: 0 } }
      }
    }
  },
  plugins: [framePlugin, fNotes, markerLegend]
});
</script>
</body>
</html>
